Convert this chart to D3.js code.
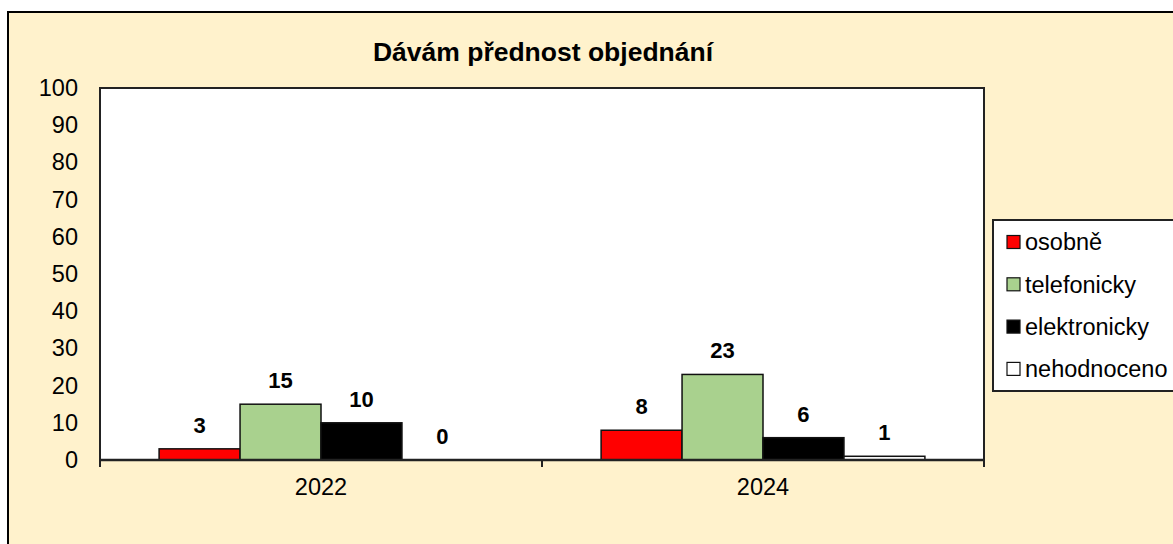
<!DOCTYPE html>
<html>
<head>
<meta charset="utf-8">
<script src="https://cdn.jsdelivr.net/npm/d3@7"></script>
<style>
  body { margin: 0; background: #fff; }
  svg { display: block; font-family: "Liberation Sans", Arial, sans-serif; }
</style>
</head>
<body>
<svg id="chart" width="1173" height="544"></svg>
<script>
// data
const years = ["2022", "2024"];
const series = ["osobně", "telefonicky", "elektronicky", "nehodnoceno"];
const colors = ["#ff0000", "#a9d18e", "#000000", "#ffffff"];
const values = [
  [3, 15, 10, 0],   // 2022
  [8, 23, 6, 1]     // 2024
];
const yTicks = d3.range(0, 101, 10);

const svg = d3.select("#chart");

// outer chart area (runs past the window on the right and bottom)
svg.append("rect")
  .attr("x", 8).attr("y", 12)
  .attr("width", 1300).attr("height", 700)
  .attr("fill", "#fff2cc")
  .attr("stroke", "#000")
  .attr("stroke-width", 2);

const plot = { left: 100, top: 88, right: 984, bottom: 460 };

const x0 = d3.scaleBand().domain(years).range([plot.left, plot.right]);
const x1 = d3.scaleBand().domain(series).range([0, x0.bandwidth()]).paddingOuter(0.73);
const y = d3.scaleLinear().domain([0, 100]).range([plot.bottom, plot.top]);

// plot area
svg.append("rect")
  .attr("x", plot.left).attr("y", plot.top)
  .attr("width", plot.right - plot.left).attr("height", plot.bottom - plot.top)
  .attr("fill", "#fff")
  .attr("stroke", "#222")
  .attr("stroke-width", 2);

// title
svg.append("text")
  .attr("x", 543).attr("y", 61)
  .attr("text-anchor", "middle")
  .attr("font-size", 26.5)
  .attr("font-weight", "bold")
  .text("Dávám přednost objednání");

// y axis labels
const yAxis = svg.append("g")
  .attr("transform", `translate(${plot.left},0)`)
  .call(d3.axisLeft(y).tickValues(yTicks).tickSize(0).tickPadding(22));
yAxis.select(".domain").remove();
yAxis.selectAll("text")
  .attr("font-size", 23.5)
  .attr("fill", "#000")
  .attr("font-family", "Liberation Sans, Arial, sans-serif");

// bars
const groups = svg.selectAll("g.year")
  .data(values)
  .enter()
  .append("g")
  .attr("class", "year")
  .attr("transform", (d, i) => `translate(${x0(years[i])},0)`);

groups.selectAll("rect")
  .data(d => d.map((v, j) => ({ key: series[j], value: v, color: colors[j] })))
  .enter()
  .append("rect")
  .attr("x", d => x1(d.key))
  .attr("y", d => y(d.value))
  .attr("width", x1.bandwidth())
  .attr("height", d => plot.bottom - y(d.value))
  .attr("fill", d => d.color)
  .attr("stroke", "#111")
  .attr("stroke-width", 1.5);

groups.selectAll("text")
  .data(d => d.map((v, j) => ({ key: series[j], value: v })))
  .enter()
  .append("text")
  .attr("x", d => x1(d.key) + x1.bandwidth() / 2)
  .attr("y", d => y(d.value) - 16)
  .attr("text-anchor", "middle")
  .attr("font-size", 22)
  .attr("font-weight", "bold")
  .text(d => d.value);

// category axis
const xAxis = svg.append("g")
  .attr("transform", `translate(0,${plot.bottom})`)
  .call(d3.axisBottom(x0).tickSize(0).tickPadding(18));
xAxis.select(".domain").remove();
xAxis.selectAll("text")
  .attr("font-size", 23.5)
  .attr("fill", "#000")
  .attr("font-family", "Liberation Sans, Arial, sans-serif");

svg.append("line")
  .attr("x1", plot.left).attr("x2", plot.right)
  .attr("y1", plot.bottom).attr("y2", plot.bottom)
  .attr("stroke", "#222").attr("stroke-width", 2.5);

const bounds = years.map(d => x0(d)).concat([plot.right]);
svg.selectAll("line.tick-mark")
  .data(bounds)
  .enter()
  .append("line")
  .attr("class", "tick-mark")
  .attr("x1", d => d).attr("x2", d => d)
  .attr("y1", plot.bottom).attr("y2", plot.bottom + 7)
  .attr("stroke", "#222").attr("stroke-width", 2);

// legend
const legend = svg.append("g").attr("transform", "translate(993,220)");
legend.append("rect")
  .attr("width", 300).attr("height", 171)
  .attr("fill", "#fff")
  .attr("stroke", "#222")
  .attr("stroke-width", 2);

const item = legend.selectAll("g.item")
  .data(series)
  .enter()
  .append("g")
  .attr("class", "item")
  .attr("transform", (d, i) => `translate(14,${22 + i * 42.3})`);

item.append("rect")
  .attr("x", 0).attr("y", -6.5)
  .attr("width", 13).attr("height", 13)
  .attr("fill", (d, i) => colors[i])
  .attr("stroke", "#111")
  .attr("stroke-width", 1.2);

item.append("text")
  .attr("x", 18)
  .attr("dy", "0.36em")
  .attr("font-size", 23.5)
  .text(d => d);
</script>
</body>
</html>
